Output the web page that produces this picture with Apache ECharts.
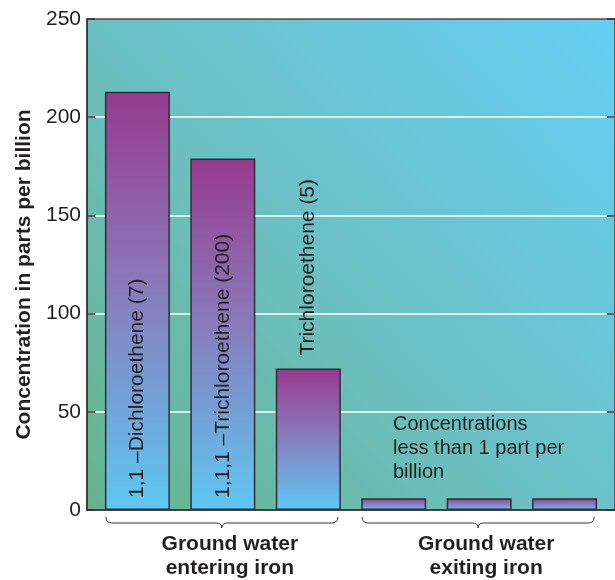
<!DOCTYPE html>
<html>
<head>
<meta charset="utf-8">
<script src="https://cdn.jsdelivr.net/npm/echarts@6/dist/echarts.min.js"></script>
<style>
  html, body { margin: 0; padding: 0; background: #fff; }
  #chart { width: 615px; height: 580px; }
</style>
</head>
<body>
<div id="chart"></div>
<script>
// bar names written inside / above the bars (last three have none)
var barLabels = ['1,1 \u2013Dichloroethene (7)', '1,1,1 \u2013Trichloroethene (200)', 'Trichloroethene (5)', '', '', ''];
// concentrations, parts per billion
var values = [213, 179, 72, 6, 6, 6];
// groups under the axis: [first bar, last bar]
var groupNames = ['Ground water\nentering iron', 'Ground water\nexiting iron'];
var groupRanges = [[0, 2], [3, 5]];
var yMin = 0, yMax = 250, yStep = 50;
var noteText = 'Concentrations\nless than 1 part per\nbillion';

var FONT = '"Liberation Sans", Arial, Helvetica, sans-serif';
var BAR_W = 65;

// points along a quadratic curve, for the bracket corners
function quad(p0, c, p1, n) {
	var pts = [];
	for (var k = 1; k <= n; k++) {
		var t = k / n, u = 1 - t;
		pts.push([u * u * p0[0] + 2 * u * t * c[0] + t * t * p1[0], u * u * p0[1] + 2 * u * t * c[1] + t * t * p1[1]]);
	}
	return pts;
}

window.onload = function() {
	var chart = echarts.init(document.getElementById('chart'));

	var barFill = new echarts.graphic.LinearGradient(0, 0, 0, 1, [
		{ offset: 0, color: '#963a8f' },
		{ offset: 0.45, color: '#8a78b8' },
		{ offset: 1, color: '#5ec8f3' }
	]);

	var data = values.map(function(v, i) {
		var tall = v > 100;
		return {
			value: [i, v],
			label: {
				show: barLabels[i] !== '',
				formatter: barLabels[i],
				position: tall ? 'insideBottom' : 'top',
				distance: tall ? 12 : 13,
				rotate: 90,
				align: 'left',
				verticalAlign: 'middle',
				fontSize: 21,
				fontFamily: FONT,
				color: '#231f20'
			}
		};
	});

	var splitColors = [];
	for (var t = yMin; t <= yMax; t += yStep) {
		splitColors.push(t === yMin || t === yMax ? 'rgba(0,0,0,0)' : '#ffffff');
	}

	var option = {
		animation: false,
		grid: {
			left: 87,
			right: 0,
			top: 19,
			bottom: 70,
			show: true,
			borderColor: '#4a4a4a',
			borderWidth: 1.5,
			backgroundColor: new echarts.graphic.LinearGradient(0, 1, 1, 0, [
				{ offset: 0, color: '#67b28c' },
				{ offset: 0.5, color: '#6cc1c6' },
				{ offset: 1, color: '#66cef4' }
			])
		},
		xAxis: {
			type: 'value',
			min: -0.59,
			max: 5.59,
			axisLine: { show: true, lineStyle: { color: '#333', width: 1.5 } },
			axisTick: { show: false },
			axisLabel: { show: false },
			splitLine: { show: false }
		},
		yAxis: [{
			type: 'value',
			min: yMin,
			max: yMax,
			interval: yStep,
			name: 'Concentration in parts per billion',
			nameLocation: 'middle',
			nameGap: 52,
			nameTextStyle: {
				fontSize: 21,
				fontWeight: 'bold',
				fontFamily: FONT,
				color: '#231f20',
				padding: [0, 20, 0, 0]
			},
			axisLine: { show: true, onZero: false, lineStyle: { color: '#333', width: 1.5 } },
			axisTick: { show: true, inside: true, length: 8, lineStyle: { color: '#333', width: 1.5 } },
			axisLabel: { fontSize: 21, fontFamily: FONT, color: '#231f20', margin: 6 },
			splitLine: { show: true, lineStyle: { color: splitColors, width: 1.5 } }
		}, {
			type: 'value',
			position: 'right',
			min: yMin,
			max: yMax,
			interval: yStep,
			axisLine: { show: false, onZero: false },
			axisTick: { show: true, inside: true, length: 8, lineStyle: { color: '#333', width: 1.5 } },
			axisLabel: { show: false },
			splitLine: { show: false }
		}],
		series: [{
			type: 'bar',
			barWidth: BAR_W,
			itemStyle: { color: barFill, borderColor: '#2f2f35', borderWidth: 1.5 },
			data: data
		}]
	};
	chart.setOption(option);

	// brackets and group titles under the x axis, placed from the axis scale
	var graphics = [];
	groupRanges.forEach(function(r, gi) {
		var p0 = chart.convertToPixel({ xAxisIndex: 0, yAxisIndex: 0 }, [r[0], 0]);
		var p1 = chart.convertToPixel({ xAxisIndex: 0, yAxisIndex: 0 }, [r[1], 0]);
		var x0 = p0[0] - BAR_W / 2 + 1;
		var x1 = p1[0] + BAR_W / 2 - 3;
		var cx = (x0 + x1) / 2;
		var yb = p0[1];
		var yTop = yb + 7, yMid = yb + 13, yTip = yb + 18;
		var pts = [[x0, yTop]];
		pts = pts.concat(quad([x0, yTop], [x0, yMid], [x0 + 6, yMid], 5));
		pts.push([cx - 6, yMid]);
		pts = pts.concat(quad([cx - 6, yMid], [cx, yMid], [cx, yTip], 5));
		pts = pts.concat(quad([cx, yTip], [cx, yMid], [cx + 6, yMid], 5));
		pts.push([x1 - 6, yMid]);
		pts = pts.concat(quad([x1 - 6, yMid], [x1, yMid], [x1, yTop], 5));
		graphics.push({
			type: 'polyline',
			shape: { points: pts },
			style: { fill: null, stroke: '#333', lineWidth: 1 }
		});
		graphics.push({
			type: 'text',
			x: cx + 8,
			y: yb + 22,
			style: {
				text: groupNames[gi],
				font: 'bold 21px ' + FONT,
				fill: '#231f20',
				align: 'center',
				verticalAlign: 'top',
				lineHeight: 24
			}
		});
	});
	graphics.push({
		type: 'text',
		x: 393,
		y: 412,
		style: {
			text: noteText,
			font: '20px ' + FONT,
			fill: '#231f20',
			align: 'left',
			verticalAlign: 'top',
			lineHeight: 24
		}
	});
	chart.setOption({ graphic: graphics });
};
</script>
</body>
</html>
